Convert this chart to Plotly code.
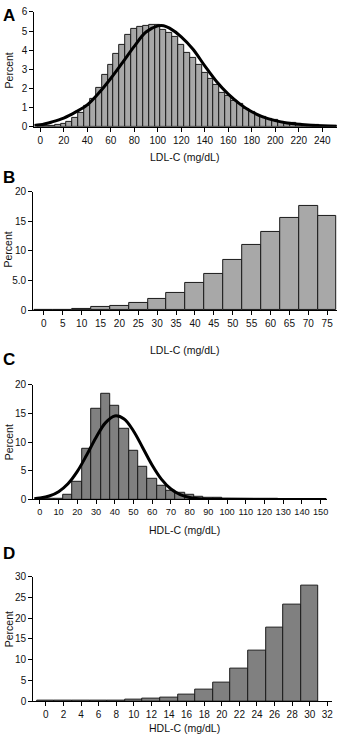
import plotly.graph_objects as go

# ---------------- data ----------------
# Panel A: LDL-C histogram (bin midpoints, width 5) and fitted normal curve
a_mid = [0, 5, 10, 15, 20, 25, 30, 35, 40, 45, 50, 55, 60, 65, 70, 75, 80, 85, 90, 95,
         100, 105, 110, 115, 120, 125, 130, 135, 140, 145, 150, 155, 160, 165, 170, 175,
         180, 185, 190, 195, 200, 205, 210, 215, 220, 225, 230, 235, 240, 245, 250]
a_pct = [0.03, 0.04, 0.06, 0.10, 0.14, 0.27, 0.45, 0.70, 1.08, 1.46, 2.05, 2.70, 3.22, 3.79,
         4.28, 4.80, 5.10, 5.24, 5.28, 5.33, 5.33, 5.07, 4.90, 4.68, 4.28, 3.86, 3.62, 3.22,
         2.79, 2.50, 2.19, 1.77, 1.60, 1.34, 1.17, 0.94, 0.79, 0.62, 0.50, 0.43, 0.38, 0.27,
         0.22, 0.19, 0.14, 0.10, 0.09, 0.07, 0.05, 0.04, 0.03]
a_curve_x = [-5, 0, 10, 20, 30, 40, 50, 60, 70, 80, 90, 100, 105, 110, 120, 130, 140, 150,
             160, 170, 180, 190, 200, 210, 220, 230, 240, 252]
a_curve_y = [0.07, 0.10, 0.25, 0.45, 0.76, 1.14, 1.77, 2.52, 3.35, 4.20, 4.95, 5.27, 5.28,
             5.15, 4.70, 4.05, 3.18, 2.36, 1.70, 1.18, 0.78, 0.50, 0.32, 0.20, 0.13, 0.08,
             0.05, 0.03]
a_xticks = [0, 20, 40, 60, 80, 100, 120, 140, 160, 180, 200, 220, 240]
a_yticks = [0, 1, 2, 3, 4, 5, 6]

# Panel B: LDL-C low range
b_mid = [0, 5, 10, 15, 20, 25, 30, 35, 40, 45, 50, 55, 60, 65, 70, 75]
b_pct = [0.05, 0.06, 0.18, 0.44, 0.72, 1.16, 1.85, 2.95, 4.55, 6.05, 8.45, 11.05, 13.3,
         15.67, 17.67, 15.88]
b_xticks = [0, 5, 10, 15, 20, 25, 30, 35, 40, 45, 50, 55, 60, 65, 70, 75]
b_yticks = [0, 5, 10, 15, 20]
b_yticktext = ["0", "5.0", "10", "15", "20"]

# Panel C: HDL-C histogram and fitted normal curve
c_mid = [5, 10, 15, 20, 25, 30, 35, 40, 45, 50, 55, 60, 65, 70, 75, 80, 85, 90, 95, 100,
         105, 110, 115, 120, 125, 130, 135, 140, 145, 150]
c_pct = [0.04, 0.15, 0.86, 3.0, 8.9, 15.75, 18.5, 16.3, 12.3, 8.4, 5.7, 3.6, 2.3, 1.55,
         1.1, 0.72, 0.46, 0.29, 0.2, 0.15, 0.1, 0.07, 0.05, 0.04, 0.03, 0.02, 0.02, 0.01,
         0.01, 0.01]
c_curve_x = [-3, 0, 5, 10, 15, 20, 25, 30, 35, 40, 45, 50, 55, 60, 65, 70, 75, 80, 85, 90,
             100, 120, 153]
c_curve_y = [0.12, 0.23, 0.59, 1.35, 2.73, 4.89, 7.74, 10.8, 13.35, 14.56, 14.03, 11.94,
             8.98, 5.97, 3.50, 1.81, 0.83, 0.34, 0.12, 0.04, 0.01, 0.0, 0.0]
c_xticks = [0, 10, 20, 30, 40, 50, 60, 70, 80, 90, 100, 110, 120, 130, 140, 150]
c_yticks = [0, 5, 10, 15, 20]

# Panel D: HDL-C low range
d_mid = [0, 2, 4, 6, 8, 10, 12, 14, 16, 18, 20, 22, 24, 26, 28, 30]
d_pct = [0.04, 0.05, 0.08, 0.15, 0.2, 0.38, 0.55, 0.87, 1.5, 2.76, 4.58, 7.8, 12.3,
         17.8, 23.2, 27.8]
d_xticks = [0, 2, 4, 6, 8, 10, 12, 14, 16, 18, 20, 22, 24, 26, 28, 30, 32]
d_yticks = [0, 5, 10, 15, 20, 25, 30]

# ---------------- layout helpers ----------------
W, H = 340, 743
FONT = "Liberation Sans, Arial, sans-serif"
LIGHT = "#a8a8a8"
DARK = "#808080"


def xd(l, r):
    return [l / W, r / W]


def yd(top, bot):
    return [1 - bot / H, 1 - top / H]


fig = go.Figure()


def add_bars(x, y, width, color, axn):
    sfx = "" if axn == 1 else str(axn)
    fig.add_trace(go.Bar(x=x, y=y, width=width, marker=dict(color=color,
                  line=dict(color="#1a1a1a", width=1)), xaxis="x" + sfx, yaxis="y" + sfx,
                  showlegend=False, hoverinfo="skip"))


def add_curve(x, y, axn):
    sfx = "" if axn == 1 else str(axn)
    fig.add_trace(go.Scatter(x=x, y=y, mode="lines", line=dict(color="black", width=3,
                  shape="spline", smoothing=1.0), xaxis="x" + sfx, yaxis="y" + sfx,
                  showlegend=False, hoverinfo="skip", cliponaxis=True))


add_bars(a_mid, a_pct, 5, LIGHT, 1)
add_curve(a_curve_x, a_curve_y, 1)
add_bars(b_mid, b_pct, 5, LIGHT, 2)
add_bars(c_mid, c_pct, 5, DARK, 3)
add_curve(c_curve_x, c_curve_y, 3)
add_bars(d_mid, d_pct, 2, DARK, 4)

axis_common = dict(showline=True, linecolor="black", linewidth=1, ticks="outside",
                   ticklen=4, tickwidth=1, tickcolor="black", showgrid=False,
                   zeroline=False, tickangle=0, fixedrange=True)

panels = [
    # (x domain px, y domain px, xrange, yrange, xticks, yticks, yticktext, xtickfont)
    ((34.3, 338), (6, 122.7), [-5.1, 252.5], [0, 6], a_xticks, a_yticks, None, 10),
    ((33.3, 338), (189, 309), [-2.82, 77.6], [0, 20], b_xticks, b_yticks, b_yticktext, 10),
    ((33.3, 328), (385, 501.5), [-3.57, 153.4], [0, 20], c_xticks, c_yticks, None, 9.2),
    ((33.3, 333), (580, 706.7), [-1.44, 32.53], [0, 30], d_xticks, d_yticks, None, 10),
]

layout = dict(width=W, height=H, margin=dict(l=0, r=0, t=0, b=0), autosize=False,
              paper_bgcolor="white", plot_bgcolor="white", bargap=0,
              font=dict(family=FONT, size=10, color="#111"))

for i, (xdp, ydp, xr, yr, xt, yt, ytt, xfs) in enumerate(panels, start=1):
    sfx = "" if i == 1 else str(i)
    xa = dict(axis_common, domain=xd(*xdp), range=xr, tickmode="array", tickvals=xt,
              anchor="y" + sfx, tickfont=dict(family=FONT, size=xfs, color="#111"))
    ya = dict(axis_common, domain=yd(*ydp), range=yr, tickmode="array", tickvals=yt,
              anchor="x" + sfx, tickfont=dict(family=FONT, size=10, color="#111"))
    if ytt is not None:
        ya["ticktext"] = ytt
    layout["xaxis" + sfx] = xa
    layout["yaxis" + sfx] = ya

fig.update_layout(**layout)

# annotations: axis titles, panel letters
xtitles = [("LDL-C (mg/dL)", 153), ("LDL-C (mg/dL)", 350), ("HDL-C (mg/dL)", 533),
           ("HDL-C (mg/dL)", 734)]
for txt, ypx in xtitles:
    fig.add_annotation(text=txt, x=185 / W, y=1 - ypx / H, xref="paper", yref="paper",
                       xanchor="center", yanchor="middle", showarrow=False,
                       font=dict(family=FONT, size=10.5, color="#111"))

ytitles = [65, 247, 443, 633]
for ypx in ytitles:
    fig.add_annotation(text="Percent", x=8.5 / W, y=1 - ypx / H, xref="paper", yref="paper",
                       xanchor="center", yanchor="middle", textangle=-90, showarrow=False,
                       font=dict(family=FONT, size=10.5, color="#111"))

letters = [("A", 10), ("B", 174), ("C", 359.5), ("D", 556)]
for txt, ypx in letters:
    fig.add_annotation(text="<b>" + txt + "</b>", x=9.5 / W, y=1 - ypx / H, xref="paper",
                       yref="paper", xanchor="center", yanchor="middle", showarrow=False,
                       font=dict(family=FONT, size=17, color="black"))

fig.write_html("out.html")
